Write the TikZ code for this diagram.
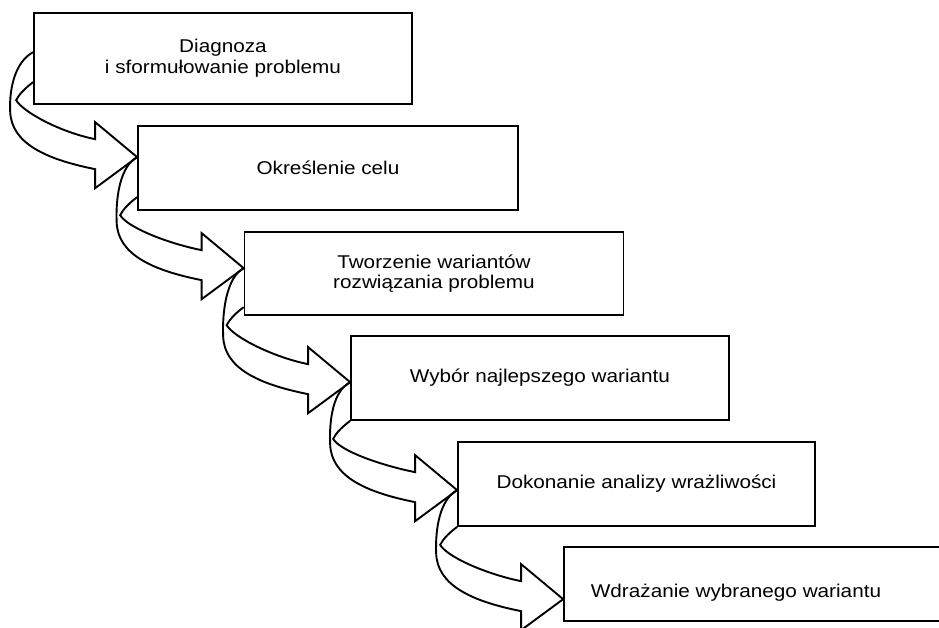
\documentclass[tikz,border=0pt]{standalone}
\usepackage{fontspec}
\setmainfont[FakeStretch=1.12]{Liberation Sans}
\usetikzlibrary{calc}
\newcommand\curvedarr[3]{% #1 outer start, #2 inner start, #3 tip
\draw[blockarr]
 (#1) .. controls ($(#1)+(-17,9)$) and ($(#3)+(-128,-71)$) .. ($(#3)+(-127,-46)$)
 .. controls ($(#3)+(-126,-14)$) and ($(#3)+(-92,2)$) .. ($(#3)+(-42,12)$)
 -- ($(#3)+(-42,31)$) -- (#3) -- ($(#3)+(-42,-35)$) -- ($(#3)+(-42,-18)$)
 .. controls ($(#3)+(-77,-25)$) and ($(#2)+(-10,30)$) .. ($(#2)+(-17,18)$)
 .. controls ($(#2)+(-14,12)$) and ($(#2)+(-8,6)$) .. (#2);}
\begin{document}
\begin{tikzpicture}[x=1pt,y=-1pt,
  stepbox/.style={draw, line width=1.7pt, inner sep=0pt, align=center,
    font=\fontsize{18.5}{20.7}\selectfont},
  steptext/.style={inner sep=0pt, align=center, font=\fontsize{18.5}{20.7}\selectfont},
  blockarr/.style={draw, line width=1.9pt, line join=miter}]
\useasboundingbox (0,0) rectangle (939,627);
\begin{scope}
\clip (0,0) rectangle (939,627);
\node[stepbox, minimum width=378pt, minimum height=91pt] (b1) at (223,58.5) {Diagnoza\\i sformułowanie problemu};
\node[stepbox, minimum width=380pt, minimum height=84pt] (b2) at (328,168) {Określenie celu};
\node[stepbox, minimum width=379pt, minimum height=83pt] (b3) at (434,273.5) {Tworzenie wariantów\\rozwiązania problemu};
\node[stepbox, minimum width=378pt, minimum height=84pt] (b4) at (540,378) {Wybór najlepszego wariantu};
\node[stepbox, minimum width=357pt, minimum height=84pt] (b5) at (636.5,484) {Dokonanie analizy wrażliwości};
\node[stepbox, minimum width=436pt, minimum height=74pt] (b6) at (782,584) {};
\node[steptext] (t6) at (736,593) {Wdrażanie wybranego wariantu};
% tips and starts
\coordinate (o1) at ($(b1.north west)+(0,40)$);
\coordinate (i1) at ($(b1.north west)+(0,70)$);
\coordinate (p1) at ($(b2.north west)+(0,32)$);
\coordinate (i2) at ($(b2.north west)+(0,72)$);
\coordinate (p2) at ($(b3.north west)+(0,37)$);
\coordinate (i3) at ($(b3.north west)+(0,76)$);
\coordinate (p3) at ($(b4.north west)+(0,47)$);
\coordinate (i4) at (b4.south west);
\coordinate (p4) at ($(b5.north west)+(0,49)$);
\coordinate (i5) at (b5.south west);
\coordinate (p5) at ($(b6.north west)+(0,53)$);
\curvedarr{o1}{i1}{p1}
\curvedarr{p1}{i2}{p2}
\curvedarr{p2}{i3}{p3}
\curvedarr{p3}{i4}{p4}
\curvedarr{p4}{i5}{p5}
\end{scope}
\end{tikzpicture}
\end{document}
